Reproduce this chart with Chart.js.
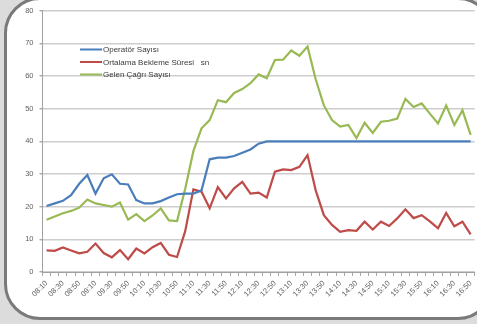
<!DOCTYPE html>
<html>
<head>
<meta charset="utf-8">
<script src="https://cdn.jsdelivr.net/npm/chart.js@4/dist/chart.umd.min.js"></script>
<style>
  html, body { margin: 0; padding: 0; width: 477px; height: 324px; overflow: hidden; background: #dcdcdc; }
  #frame { position: absolute; left: 4px; top: -3px; width: 490px; height: 323px; box-sizing: border-box;
           border: 3px solid #7a7a7a; border-radius: 36px; background: #ffffff; }
  #wrap { position: absolute; left: 0; top: 0; width: 480px; height: 324px; }
</style>
</head>
<body>
<div id="frame"></div>
<div id="wrap"><canvas id="c" width="480" height="324"></canvas></div>
<script>
const times = ['08:10','08:20','08:30','08:40','08:50','09:00','09:10','09:20','09:30','09:40',
  '09:50','10:00','10:10','10:20','10:30','10:40','10:50','11:00','11:10','11:20',
  '11:30','11:40','11:50','12:00','12:10','12:20','12:30','12:40','12:50','13:00',
  '13:10','13:20','13:30','13:40','13:50','14:00','14:10','14:20','14:30','14:40',
  '14:50','15:00','15:10','15:20','15:30','15:40','15:50','16:00','16:10','16:20',
  '16:30','16:40','16:50'];
const seriesNames = ['Operatör Sayısı', 'Ortalama Bekleme Süresi   sn', 'Gelen Çağrı Sayısı'];
const operators = [20.2, 21, 21.8, 23.5, 27, 29.7, 24, 28.7, 29.9, 27,
  26.8, 22, 21, 21, 21.7, 22.8, 23.8, 24, 24, 25,
  34.5, 35, 35, 35.5, 36.5, 37.5, 39.3, 40, 40, 40,
  40, 40, 40, 40, 40, 40, 40, 40, 40, 40,
  40, 40, 40, 40, 40, 40, 40, 40, 40, 40,
  40, 40, 40];
const waiting = [6.6, 6.5, 7.5, 6.6, 5.7, 6.2, 8.7, 5.8, 4.5, 6.7,
  3.9, 7.2, 5.7, 7.6, 8.9, 5.3, 4.6, 12.5, 25.3, 24.6,
  19.5, 26, 22.5, 25.6, 27.6, 24, 24.3, 22.8, 30.7, 31.4,
  31.2, 32.2, 35.8, 25, 17.4, 14.4, 12.3, 12.8, 12.6, 15.4,
  13, 15.4, 14.1, 16.4, 19.2, 16.5, 17.4, 15.5, 13.4, 18.1,
  14, 15.4, 11.5];
const calls = [16, 17, 18, 18.7, 19.7, 22.2, 21, 20.5, 20, 21.3,
  16, 17.7, 15.6, 17.3, 19.5, 15.8, 15.6, 25.5, 37, 44,
  46.5, 52.6, 52, 54.8, 56, 57.8, 60.5, 59.3, 64.9, 65,
  67.8, 66.2, 69, 59, 51, 46.5, 44.5, 45, 41, 45.7,
  42.6, 46, 46.3, 47, 53, 50.5, 51.6, 48.5, 45.5, 51,
  45, 49.5, 42];
const yTicks = [0, 10, 20, 30, 40, 50, 60, 70, 80];
const colors = ['#4a7ebb', '#be4b48', '#98b954'];

const legendPlugin = {
  id: 'innerLegend',
  afterDatasetsDraw(chart) {
    const ctx = chart.ctx;
    const rows = [49.5, 62, 74.5];
    ctx.save();
    chart.data.datasets.forEach((ds, i) => {
      const y = rows[i];
      ctx.strokeStyle = ds.borderColor;
      ctx.lineWidth = 2;
      ctx.beginPath(); ctx.moveTo(80, y); ctx.lineTo(102, y); ctx.stroke();
      ctx.fillStyle = '#3a3a3a';
      ctx.font = '8px "Liberation Sans", Arial, sans-serif';
      ctx.textBaseline = 'middle';
      ctx.textAlign = 'left';
      ctx.fillText(ds.label, 103, y + 0.5);
    });
    ctx.restore();
  }
};

const mk = (label, data, color) => ({
  label, data, borderColor: color, backgroundColor: color,
  borderWidth: 2.2, pointRadius: 0, tension: 0, fill: false
});

new Chart(document.getElementById('c'), {
  type: 'line',
  data: {
    labels: times,
    datasets: [
      mk(seriesNames[0], operators, colors[0]),
      mk(seriesNames[1], waiting, colors[1]),
      mk(seriesNames[2], calls, colors[2])
    ]
  },
  plugins: [legendPlugin],
  options: {
    responsive: false,
    animation: false,
    devicePixelRatio: 1,
    layout: { padding: { top: 10.7, left: 0, right: 0, bottom: 0 } },
    plugins: { legend: { display: false }, tooltip: { enabled: false } },
    scales: {
      x: {
        offset: true,
        afterFit(scale) { scale.height = 52; },
        grid: { display: true, drawOnChartArea: false, drawTicks: true, tickLength: 4, color: '#a8a8a8', offset: true },
        border: { display: true, color: '#a0a0a0', width: 1 },
        ticks: {
          autoSkip: false, maxRotation: 45, minRotation: 45, padding: 3,
          color: '#5f5f5f',
          font: { family: '"Liberation Sans", Arial, sans-serif', size: 7.5 },
          callback(v, i) { return i % 2 === 0 ? times[i] : ''; }
        }
      },
      y: {
        min: 0, max: 80,
        afterFit(scale) { scale.width = 42.5; },
        afterBuildTicks(scale) { scale.ticks = yTicks.map(v => ({ value: v })); },
        grid: { color: '#cdcdcd', lineWidth: 1.4, tickLength: 3, tickColor: '#a8a8a8' },
        border: { display: true, color: '#a0a0a0', width: 1 },
        ticks: {
          padding: 6, color: '#5f5f5f',
          font: { family: '"Liberation Sans", Arial, sans-serif', size: 7.5 }
        }
      }
    }
  }
});
</script>
</body>
</html>
